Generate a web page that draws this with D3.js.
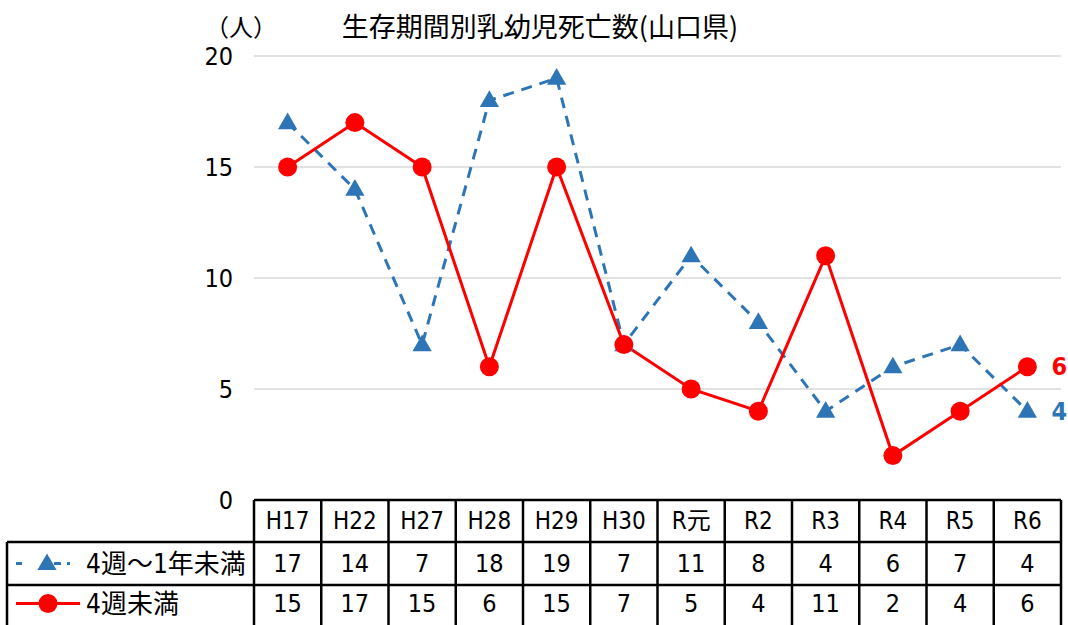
<!DOCTYPE html>
<html>
<head>
<meta charset="utf-8">
<script src="https://cdn.jsdelivr.net/npm/d3@7"></script>
<style>
  body { margin: 0; background: #fff; }
  text { font-family: "DejaVu Sans Condensed", "DejaVu Sans", "Noto Sans CJK JP", sans-serif; font-stretch: condensed; }
</style>
</head>
<body>
<div id="chart"></div>
<script>
const years = ["H17", "H22", "H27", "H28", "H29", "H30", "R元", "R2", "R3", "R4", "R5", "R6"];
const seriesNames = ["4週～1年未満", "4週未満"];
const infant = [17, 14, 7, 18, 19, 7, 11, 8, 4, 6, 7, 4];   // 4週～1年未満
const neonatal = [15, 17, 15, 6, 15, 7, 5, 4, 11, 2, 4, 6];  // 4週未満
const yTicks = [0, 5, 10, 15, 20];

const width = 1068, height = 625;
const plotLeft = 254, plotRight = 1061, plotTop = 56, plotBottom = 500;
const blue = "#2E75B6", red = "#FF0000";
const cjk = "'Noto Sans CJK JP', sans-serif";

const svg = d3.select("#chart").append("svg")
    .attr("width", width).attr("height", height);

const x = d3.scaleBand().domain(years).range([plotLeft, plotRight]);
const y = d3.scaleLinear().domain([0, 20]).range([plotBottom, plotTop]);
const cx = d => x(d) + x.bandwidth() / 2;

// grid
svg.selectAll(".grid")
   .data(yTicks.filter(t => t > 0))
   .enter().append("line")
   .attr("x1", plotLeft).attr("x2", plotRight)
   .attr("y1", d => y(d)).attr("y2", d => y(d))
   .attr("stroke", "#d9d9d9").attr("stroke-width", 1.5);

svg.selectAll(".ytick")
   .data(yTicks)
   .enter().append("text")
   .attr("x", 233).attr("y", d => y(d))
   .attr("text-anchor", "end").attr("dominant-baseline", "central")
   .style("font-size", "25px")
   .text(d => d);

// titles
svg.append("text").attr("x", 241).attr("y", 25)
   .attr("text-anchor", "middle").attr("dominant-baseline", "central")
   .style("font-family", cjk).style("font-size", "24px")
   .text("（人）");

svg.append("text").attr("x", 540).attr("y", 25)
   .attr("text-anchor", "middle").attr("dominant-baseline", "central")
   .style("font-family", cjk).style("font-size", "27px")
   .text("生存期間別乳幼児死亡数(山口県)");

// lines
const line = d3.line().x((d, i) => cx(years[i])).y(d => y(d));

svg.append("path").datum(infant)
   .attr("d", line).attr("fill", "none")
   .attr("stroke", blue).attr("stroke-width", 3)
   .attr("stroke-dasharray", "11,8");

svg.append("path").datum(neonatal)
   .attr("d", line).attr("fill", "none")
   .attr("stroke", red).attr("stroke-width", 3);

const tri = d3.symbol().type(d3.symbolTriangle).size(160);

svg.selectAll(".tri")
   .data(infant)
   .enter().append("path")
   .attr("d", tri)
   .attr("transform", (d, i) => `translate(${cx(years[i])},${y(d) + 1})`)
   .attr("fill", blue);

svg.selectAll(".dot")
   .data(neonatal)
   .enter().append("circle")
   .attr("cx", (d, i) => cx(years[i])).attr("cy", d => y(d))
   .attr("r", 9.5).attr("fill", red);

// end labels
const last = years.length - 1;
svg.append("text").attr("x", cx(years[last]) + 24).attr("y", y(neonatal[last]))
   .attr("dominant-baseline", "central").attr("fill", red)
   .style("font-size", "25px").style("font-weight", "bold")
   .text(neonatal[last]);
svg.append("text").attr("x", cx(years[last]) + 24).attr("y", y(infant[last]))
   .attr("dominant-baseline", "central").attr("fill", blue)
   .style("font-size", "25px").style("font-weight", "bold")
   .text(infant[last]);

// data table
const rowY = [500, 542, 585, 622];
const tableLeft = 7;
const tbl = svg.append("g")
   .attr("stroke", "#000").attr("stroke-width", 2.5).attr("fill", "none");

tbl.append("line").attr("x1", plotLeft).attr("x2", plotRight).attr("y1", rowY[0]).attr("y2", rowY[0]);
tbl.append("line").attr("x1", tableLeft).attr("x2", plotRight).attr("y1", rowY[1]).attr("y2", rowY[1]);
tbl.append("line").attr("x1", tableLeft).attr("x2", plotRight).attr("y1", rowY[2]).attr("y2", rowY[2]);
tbl.append("line").attr("x1", tableLeft).attr("x2", tableLeft).attr("y1", rowY[1]).attr("y2", height);

tbl.selectAll(".vline")
   .data(years.concat(["end"]))
   .enter().append("line")
   .attr("x1", (d, i) => plotLeft + i * x.step()).attr("x2", (d, i) => plotLeft + i * x.step())
   .attr("y1", rowY[0]).attr("y2", height);

const rowMid = i => (rowY[i] + rowY[i + 1]) / 2;

svg.selectAll(".hdr")
   .data(years)
   .enter().append("text")
   .attr("x", d => cx(d)).attr("y", rowMid(0))
   .attr("text-anchor", "middle").attr("dominant-baseline", "central")
   .style("font-size", "24px")
   .text(d => d);

[infant, neonatal].forEach((vals, r) => {
    svg.selectAll(".cell" + r)
       .data(vals)
       .enter().append("text")
       .attr("x", (d, i) => cx(years[i])).attr("y", rowMid(r + 1))
       .attr("text-anchor", "middle").attr("dominant-baseline", "central")
       .style("font-size", "25px")
       .text(d => d);

    svg.append("text")
       .attr("x", 86).attr("y", rowMid(r + 1))
       .attr("dominant-baseline", "central")
       .style("font-size", "26px")
       .text(seriesNames[r]);
});

// legend keys
const key1 = rowMid(1), key2 = rowMid(2);
svg.append("line").attr("x1", 16).attr("x2", 70).attr("y1", key1).attr("y2", key1)
   .attr("stroke", blue).attr("stroke-width", 3).attr("stroke-dasharray", "6,16,0,16,7");
svg.append("path").attr("d", tri).attr("transform", `translate(47,${key1 + 1})`).attr("fill", blue);
svg.append("line").attr("x1", 16).attr("x2", 80).attr("y1", key2).attr("y2", key2)
   .attr("stroke", red).attr("stroke-width", 3);
svg.append("circle").attr("cx", 48).attr("cy", key2).attr("r", 9.5).attr("fill", red);
</script>
</body>
</html>
